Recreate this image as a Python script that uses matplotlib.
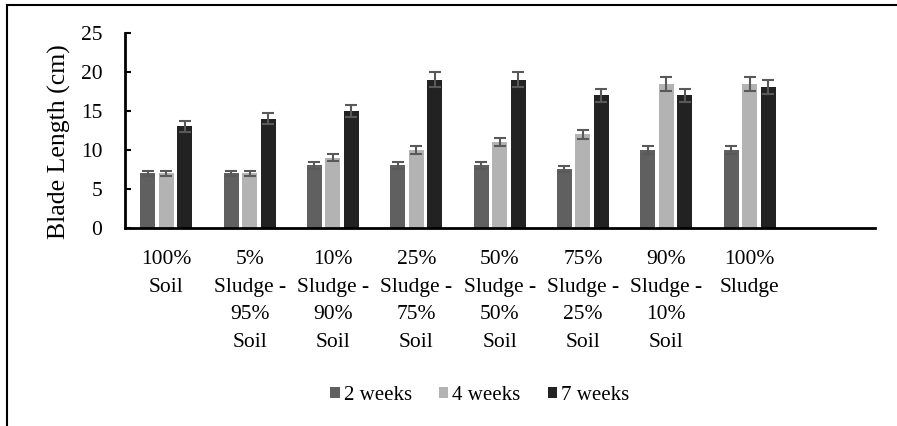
import matplotlib.pyplot as plt
import numpy as np
from matplotlib.lines import Line2D

plt.rcParams['font.family'] = ['Liberation Serif', 'DejaVu Serif']
plt.rcParams['font.size'] = 15

labels = ['100%\nSoil', '5%\nSludge -\n95%\nSoil', '10%\nSludge -\n90%\nSoil',
          '25%\nSludge -\n75%\nSoil', '50%\nSludge -\n50%\nSoil', '75%\nSludge -\n25%\nSoil',
          '90%\nSludge -\n10%\nSoil', '100%\nSludge']
series = ['2 weeks', '4 weeks', '7 weeks']
week2 = [7, 7, 8, 8, 8, 7.5, 10, 10]
week4 = [7, 7, 9, 10, 11, 12, 18.5, 18.5]
week7 = [13, 14, 15, 19, 19, 17, 17, 18]
err2 = [0.35, 0.35, 0.4, 0.4, 0.4, 0.4, 0.5, 0.5]
err4 = [0.35, 0.35, 0.45, 0.5, 0.55, 0.6, 0.9, 0.9]
err7 = [0.65, 0.7, 0.75, 0.95, 0.95, 0.85, 0.85, 0.9]
colors = ['#606060', '#b3b3b3', '#222222']

fig = plt.figure(figsize=(8.97, 4.26), dpi=100)
ax = fig.add_axes([0.139, 0.465, 0.836, 0.458])

x = np.arange(len(labels))
w = 0.18
step = 0.222
for i, (vals, errs) in enumerate(zip([week2, week4, week7], [err2, err4, err7])):
    ax.bar(x + (i - 1) * step, vals, w, color=colors[i], label=series[i],
           yerr=errs, capsize=4.5,
           error_kw=dict(ecolor='#595959', elinewidth=1.5, capthick=1.5))

ax.set_xlim(-0.5, 8.5)
ax.set_ylim(0, 25)
ax.set_yticks([0, 5, 10, 15, 20, 25])
ax.set_xticks(x)
ax.set_xticklabels(labels, linespacing=1.62, fontsize=15.5)
ax.tick_params(axis='x', length=0, pad=16)
ax.tick_params(axis='y', direction='in', length=4, width=1.5, pad=16, labelsize=15.5)
ax.set_ylabel('Blade Length (cm)', fontsize=18.5)
ax.yaxis.set_label_coords(-0.071, 0.444)

for s in ['top', 'right']:
    ax.spines[s].set_visible(False)
for s in ['left', 'bottom']:
    ax.spines[s].set_linewidth(2)

fig.legend(loc='center', bbox_to_anchor=(0.535, 0.072), ncol=3, frameon=False,
           fontsize=15, handlelength=0.45, handleheight=0.45, handletextpad=0.2,
           columnspacing=1.3)

# outer border (top and left only are visible)
fig.add_artist(Line2D([7 / 897, 1], [1 - 5 / 426, 1 - 5 / 426], color='black', lw=1.5))
fig.add_artist(Line2D([7 / 897, 7 / 897], [0, 1 - 5 / 426], color='black', lw=1.5))

fig.savefig('out.png', dpi=100)
